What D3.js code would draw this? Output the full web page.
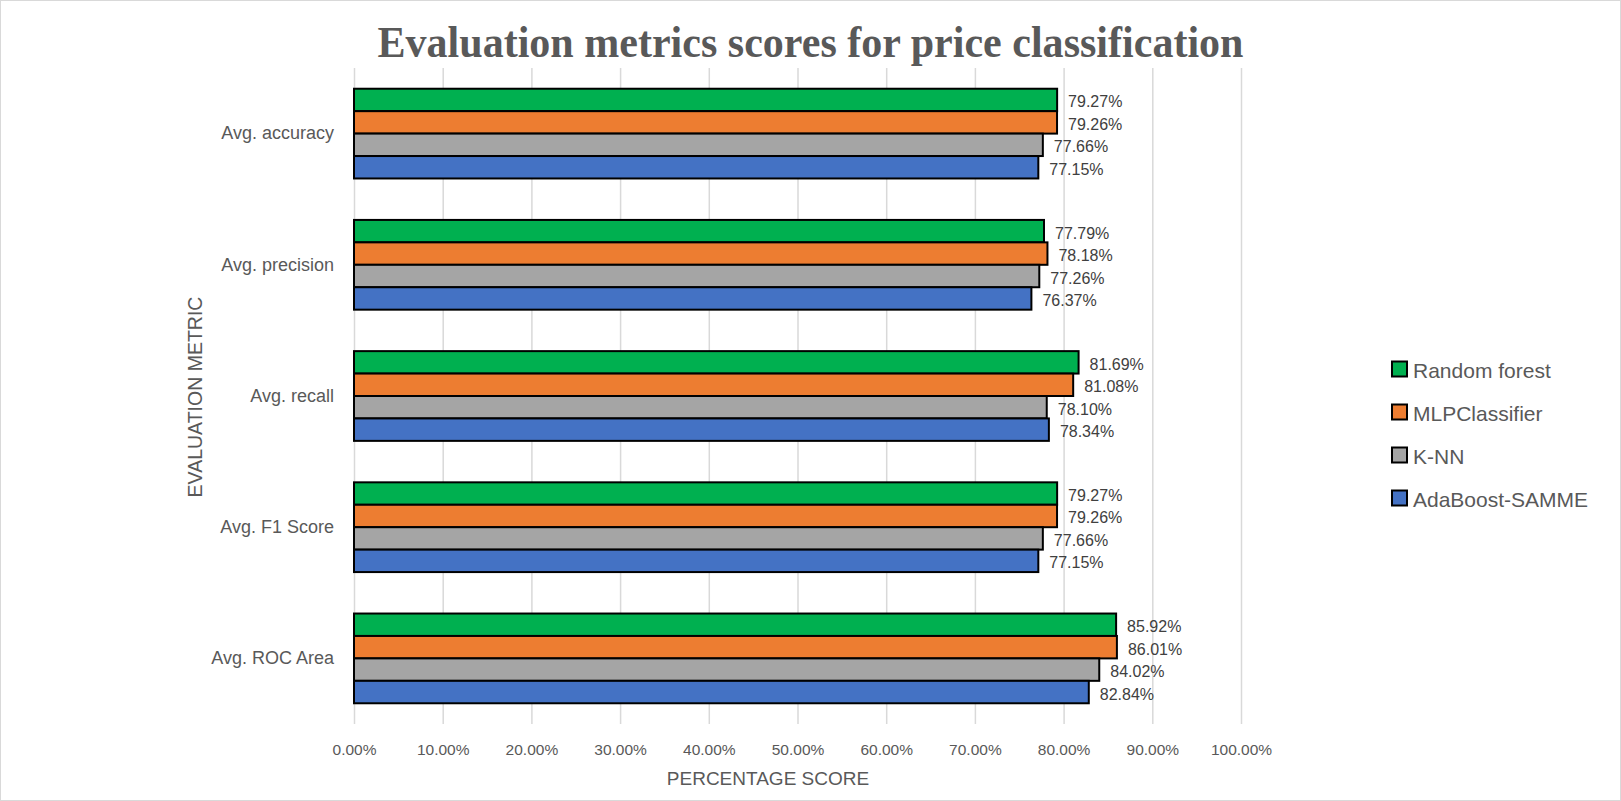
<!DOCTYPE html>
<html>
<head>
<meta charset="utf-8">
<script src="https://cdn.jsdelivr.net/npm/d3@7"></script>
<style>
  body { margin: 0; background: #fff; }
  svg { display: block; }
</style>
</head>
<body>
<div id="vis"></div>
<script>
// data
const categories = ["Avg. accuracy", "Avg. precision", "Avg. recall", "Avg. F1 Score", "Avg. ROC Area"];
const seriesNames = ["Random forest", "MLPClassifier", "K-NN", "AdaBoost-SAMME"];
const randomForest = [0.7927, 0.7779, 0.8169, 0.7927, 0.8592];
const mlpClassifier = [0.7926, 0.7818, 0.8108, 0.7926, 0.8601];
const knn = [0.7766, 0.7726, 0.7810, 0.7766, 0.8402];
const adaBoost = [0.7715, 0.7637, 0.7834, 0.7715, 0.8284];
const xTicks = [0, 0.1, 0.2, 0.3, 0.4, 0.5, 0.6, 0.7, 0.8, 0.9, 1.0];

const seriesValues = [randomForest, mlpClassifier, knn, adaBoost];
const COLORS = ["#00b050", "#ed7d31", "#a5a5a5", "#4472c4"];

// frame and plot dimensions
const FRAME_WIDTH = 1621;
const FRAME_HEIGHT = 801;
const PLOT = {left: 354, right: 1241, top: 68, bottom: 724};
const SANS = "'Liberation Sans', Arial, sans-serif";

const FRAME = d3.select("#vis")
  .append("svg")
    .attr("width", FRAME_WIDTH)
    .attr("height", FRAME_HEIGHT);

// outer chart border
FRAME.append("rect")
  .attr("x", 0.5).attr("y", 0.5)
  .attr("width", FRAME_WIDTH - 1).attr("height", FRAME_HEIGHT - 1)
  .attr("fill", "#fff")
  .attr("stroke", "#d9d9d9");

// scales
const X_SCALE = d3.scaleLinear()
  .domain([0, 1])
  .range([PLOT.left, PLOT.right]);

const Y_SCALE = d3.scaleBand()
  .domain(categories)
  .range([PLOT.top, PLOT.bottom])
  .paddingInner(0.316)
  .paddingOuter(0.158);

const Y_INNER = d3.scaleBand()
  .domain(seriesNames)
  .range([0, Y_SCALE.bandwidth()]);

// x axis with gridlines
const xAxis = FRAME.append("g")
  .attr("transform", "translate(0," + PLOT.bottom + ")")
  .call(d3.axisBottom(X_SCALE)
    .tickValues(xTicks)
    .tickFormat(d3.format(".2%"))
    .tickSize(-(PLOT.bottom - PLOT.top))
    .tickPadding(20));
xAxis.select(".domain").remove();
xAxis.selectAll(".tick line")
  .attr("stroke", "#d9d9d9")
  .attr("stroke-width", 1.5);
xAxis.selectAll(".tick text")
  .attr("fill", "#595959")
  .attr("font-family", SANS)
  .attr("font-size", "15.5px");

// y axis (category labels only)
const yAxis = FRAME.append("g")
  .attr("transform", "translate(" + PLOT.left + ",0)")
  .call(d3.axisLeft(Y_SCALE).tickSize(0).tickPadding(20));
yAxis.select(".domain").remove();
yAxis.selectAll(".tick text")
  .attr("fill", "#595959")
  .attr("font-family", SANS)
  .attr("font-size", "18px");

// bars
seriesNames.forEach((name, i) => {
  const g = FRAME.append("g").attr("class", "series");
  g.selectAll("rect")
    .data(seriesValues[i])
    .enter()
    .append("rect")
      .attr("x", X_SCALE(0))
      .attr("y", (d, j) => Y_SCALE(categories[j]) + Y_INNER(name))
      .attr("width", (d) => X_SCALE(d) - X_SCALE(0))
      .attr("height", Y_INNER.bandwidth())
      .attr("fill", COLORS[i])
      .attr("stroke", "#000")
      .attr("stroke-width", 2);

  g.selectAll("text")
    .data(seriesValues[i])
    .enter()
    .append("text")
      .attr("x", (d) => X_SCALE(d) + 11)
      .attr("y", (d, j) => Y_SCALE(categories[j]) + Y_INNER(name) + Y_INNER.bandwidth() / 2 + 2)
      .attr("dominant-baseline", "central")
      .attr("fill", "#404040")
      .attr("font-family", SANS)
      .attr("font-size", "16px")
      .text((d) => d3.format(".2%")(d));
});

// title
FRAME.append("text")
  .attr("x", FRAME_WIDTH / 2)
  .attr("y", 57)
  .attr("text-anchor", "middle")
  .attr("fill", "#595959")
  .attr("font-family", "'Liberation Serif', 'Times New Roman', serif")
  .attr("font-weight", "bold")
  .attr("font-size", "44px")
  .attr("textLength", 866)
  .attr("lengthAdjust", "spacingAndGlyphs")
  .text("Evaluation metrics scores for price classification");

// axis titles
FRAME.append("text")
  .attr("x", 768)
  .attr("y", 778)
  .attr("text-anchor", "middle")
  .attr("dominant-baseline", "central")
  .attr("fill", "#595959")
  .attr("font-family", SANS)
  .attr("font-size", "19px")
  .text("PERCENTAGE SCORE");

FRAME.append("text")
  .attr("transform", "translate(195,397) rotate(-90)")
  .attr("text-anchor", "middle")
  .attr("dominant-baseline", "central")
  .attr("fill", "#595959")
  .attr("font-family", SANS)
  .attr("font-size", "19.5px")
  .text("EVALUATION METRIC");

// legend
const legend = FRAME.append("g")
  .attr("transform", "translate(1392,369)");
const items = legend.selectAll("g")
  .data(seriesNames)
  .enter()
  .append("g")
    .attr("transform", (d, i) => "translate(0," + (i * 43) + ")");
items.append("rect")
  .attr("x", 0).attr("y", -7.5)
  .attr("width", 15).attr("height", 15)
  .attr("fill", (d, i) => COLORS[i])
  .attr("stroke", "#000")
  .attr("stroke-width", 2);
items.append("text")
  .attr("x", 21)
  .attr("y", 1)
  .attr("dominant-baseline", "central")
  .attr("fill", "#595959")
  .attr("font-family", SANS)
  .attr("font-size", "21px")
  .text((d) => d);
</script>
</body>
</html>
